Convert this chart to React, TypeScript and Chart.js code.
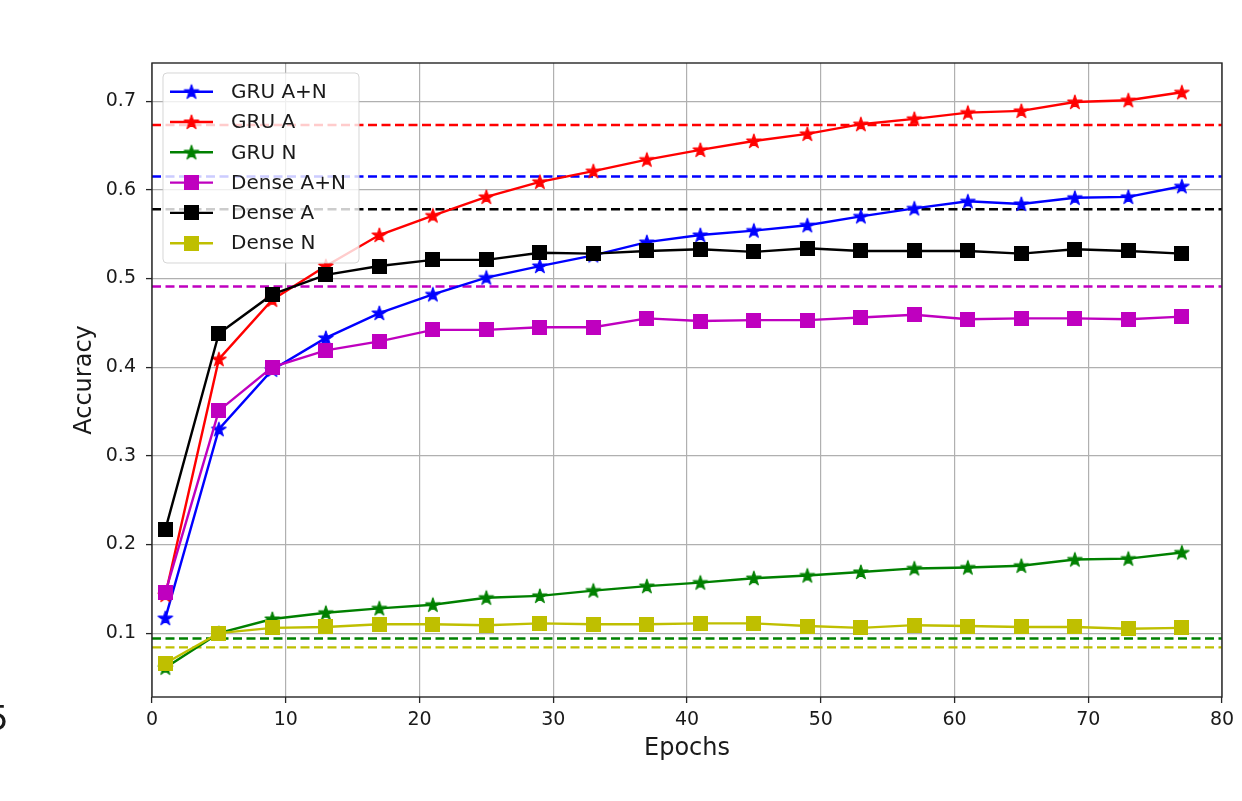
import React, { useEffect, useRef } from 'react';
import { Chart, registerables } from 'chart.js';
Chart.register(...registerables);

const epochs = [1, 5, 9, 13, 17, 21, 25, 29, 33, 37, 41, 45, 49, 53, 57, 61, 65, 69, 73, 77];
const gruAN = [0.117, 0.330, 0.397, 0.433, 0.461, 0.482, 0.501, 0.514, 0.526, 0.541, 0.549, 0.554, 0.560, 0.570, 0.579, 0.587, 0.584, 0.591, 0.592, 0.604];
const gruA = [0.143, 0.409, 0.476, 0.514, 0.549, 0.571, 0.592, 0.609, 0.621, 0.634, 0.645, 0.655, 0.663, 0.674, 0.680, 0.687, 0.689, 0.699, 0.701, 0.710];
const gruN = [0.061, 0.100, 0.116, 0.123, 0.128, 0.132, 0.140, 0.142, 0.148, 0.153, 0.157, 0.162, 0.165, 0.169, 0.173, 0.174, 0.176, 0.183, 0.184, 0.191];
const denseAN = [0.146, 0.351, 0.400, 0.419, 0.429, 0.442, 0.442, 0.445, 0.445, 0.455, 0.452, 0.453, 0.453, 0.456, 0.459, 0.454, 0.455, 0.455, 0.454, 0.457];
const denseA = [0.217, 0.438, 0.482, 0.504, 0.514, 0.521, 0.521, 0.529, 0.528, 0.531, 0.533, 0.530, 0.534, 0.531, 0.531, 0.531, 0.528, 0.533, 0.531, 0.528];
const denseN = [0.066, 0.100, 0.106, 0.107, 0.110, 0.110, 0.109, 0.111, 0.110, 0.110, 0.111, 0.111, 0.108, 0.106, 0.109, 0.108, 0.107, 0.107, 0.105, 0.106];

const seriesNames = ['GRU A+N', 'GRU A', 'GRU N', 'Dense A+N', 'Dense A', 'Dense N'];
const seriesColors = ['#0000ff', '#ff0000', '#008000', '#bf00bf', '#000000', '#bfbf00'];
const seriesMarkers = ['star', 'star', 'star', 'square', 'square', 'square'];
const seriesValues = [gruAN, gruA, gruN, denseAN, denseA, denseN];
const baselines = [0.615, 0.673, 0.094, 0.491, 0.578, 0.084];

const xTicks = [0, 10, 20, 30, 40, 50, 60, 70, 80];
const yTicks = [0.1, 0.2, 0.3, 0.4, 0.5, 0.6, 0.7];
const xMin = 0, xMax = 80, yMin = 0.028, yMax = 0.743;

const FONT = "'DejaVu Sans', sans-serif";

function makeStar(color: string) {
  const c = document.createElement('canvas');
  c.width = 18; c.height = 18;
  const ctx = c.getContext('2d')!;
  const R = 7.5, r = R * 0.382;
  ctx.beginPath();
  for (let i = 0; i < 10; i++) {
    const rad = i % 2 === 0 ? R : r;
    const a = -Math.PI / 2 + i * Math.PI / 5;
    const px = 9 + rad * Math.cos(a), py = 9.5 + rad * Math.sin(a);
    if (i === 0) ctx.moveTo(px, py); else ctx.lineTo(px, py);
  }
  ctx.closePath();
  ctx.fillStyle = color;
  ctx.fill();
  ctx.strokeStyle = color;
  ctx.lineWidth = 1.2;
  ctx.lineJoin = 'round';
  ctx.stroke();
  return c;
}

function makeSquare(color: string) {
  const c = document.createElement('canvas');
  c.width = 15; c.height = 15;
  const ctx = c.getContext('2d')!;
  ctx.fillStyle = color;
  ctx.fillRect(0, 0, 15, 15);
  return c;
}

export default function App() {
  const ref = useRef<HTMLCanvasElement>(null);
  useEffect(() => {
    if (!ref.current) return;
    const markers = seriesColors.map((col, i) => (seriesMarkers[i] === 'star' ? makeStar(col) : makeSquare(col)));

    const datasets: any[] = [];
    seriesNames.forEach((name, i) => {
      datasets.push({
        label: name,
        data: epochs.map((e, k) => ({ x: e, y: seriesValues[i][k] })),
        borderColor: seriesColors[i],
        backgroundColor: seriesColors[i],
        borderWidth: 2.4,
        pointStyle: markers[i],
        pointRadius: 5,
        tension: 0,
        order: 6 - i,
      });
    });
    seriesNames.forEach((name, i) => {
      datasets.push({
        label: name + ' baseline',
        data: [{ x: xMin, y: baselines[i] }, { x: xMax, y: baselines[i] }],
        borderColor: seriesColors[i],
        borderWidth: 2.4,
        borderDash: [9, 4.5],
        pointRadius: 0,
        order: 20 - i,
      });
    });

    const framePlugin = {
      id: 'frameLegend',
      afterDatasetsDraw(chart: any) {
        const { ctx, chartArea: a } = chart;
        ctx.save();
        ctx.strokeStyle = '#262626';
        ctx.lineWidth = 1.4;
        ctx.strokeRect(a.left, a.top, a.right - a.left, a.bottom - a.top);

        // legend
        const bx = a.left + 11, by = a.top + 10, bw = 196, bh = 190, rr = 4;
        ctx.beginPath();
        ctx.moveTo(bx + rr, by);
        ctx.lineTo(bx + bw - rr, by);
        ctx.arcTo(bx + bw, by, bx + bw, by + rr, rr);
        ctx.lineTo(bx + bw, by + bh - rr);
        ctx.arcTo(bx + bw, by + bh, bx + bw - rr, by + bh, rr);
        ctx.lineTo(bx + rr, by + bh);
        ctx.arcTo(bx, by + bh, bx, by + bh - rr, rr);
        ctx.lineTo(bx, by + rr);
        ctx.arcTo(bx, by, bx + rr, by, rr);
        ctx.closePath();
        ctx.fillStyle = 'rgba(255,255,255,0.8)';
        ctx.fill();
        ctx.strokeStyle = 'rgba(204,204,204,0.8)';
        ctx.lineWidth = 1;
        ctx.stroke();

        ctx.font = `20px ${FONT}`;
        ctx.textBaseline = 'middle';
        ctx.textAlign = 'left';
        seriesNames.forEach((name, i) => {
          const cy = by + 18.7 + i * 30.3;
          ctx.strokeStyle = seriesColors[i];
          ctx.lineWidth = 2.4;
          ctx.beginPath();
          ctx.moveTo(bx + 7, cy);
          ctx.lineTo(bx + 50, cy);
          ctx.stroke();
          const m = markers[i];
          ctx.drawImage(m, bx + 28.5 - m.width / 2, cy - m.height / 2);
          ctx.fillStyle = '#1a1a1a';
          ctx.fillText(name, bx + 68, cy + 1);
        });
        ctx.restore();
      },
    };

    const chart = new Chart(ref.current, {
      type: 'line',
      data: { datasets },
      plugins: [framePlugin],
      options: {
        animation: false,
        responsive: false,
        maintainAspectRatio: false,
        layout: { padding: { top: 63, right: 20, left: 0, bottom: 0 } },
        plugins: { legend: { display: false }, tooltip: { enabled: false } },
        scales: {
          x: {
            type: 'linear',
            min: xMin,
            max: xMax,
            afterBuildTicks: (s: any) => { s.ticks = xTicks.map((v) => ({ value: v })); },
            afterFit: (s: any) => { s.height = 104; },
            grid: { color: '#b0b0b0', lineWidth: 1.2, tickColor: '#262626', tickLength: 6, tickWidth: 1.3 },
            border: { display: false },
            ticks: { color: '#1a1a1a', font: { family: FONT, size: 19 }, padding: 6, maxRotation: 0, callback: (v: any) => String(v) },
            title: { display: true, text: 'Epochs', color: '#1a1a1a', font: { family: FONT, size: 24 }, padding: { top: 0, bottom: 38 } },
          },
          y: {
            type: 'linear',
            min: yMin,
            max: yMax,
            afterBuildTicks: (s: any) => { s.ticks = yTicks.map((v) => ({ value: v })); },
            afterFit: (s: any) => { s.width = 152; },
            grid: { color: '#b0b0b0', lineWidth: 1.2, tickColor: '#262626', tickLength: 6, tickWidth: 1.3 },
            border: { display: false },
            ticks: { color: '#1a1a1a', font: { family: FONT, size: 19 }, padding: 10, callback: (v: any) => Number(v).toFixed(1) },
            title: { display: true, text: 'Accuracy', color: '#1a1a1a', font: { family: FONT, size: 24 }, padding: { top: 70, bottom: 0 } },
          },
        },
      },
    });
    return () => chart.destroy();
  }, []);

  return (
    <div style={{ position: 'fixed', left: 0, top: 0, width: 1242, height: 801, background: '#fff', overflow: 'hidden' }}>
      <canvas ref={ref} width={1242} height={801} style={{ display: 'block', width: 1242, height: 801 }} />
      <span style={{ position: 'absolute', left: -13, top: 701, fontFamily: FONT, fontSize: 34, lineHeight: 1, color: '#1a1a1a' }}>5</span>
    </div>
  );
}
